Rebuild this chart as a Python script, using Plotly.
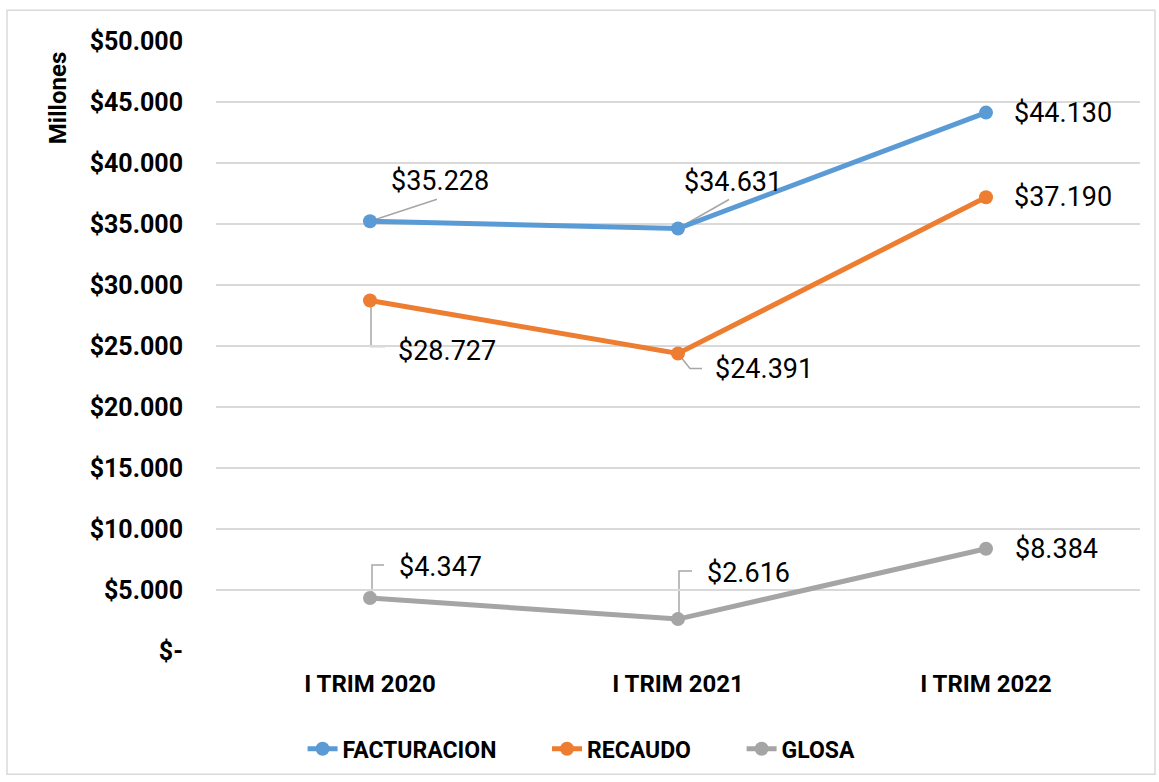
import plotly.graph_objects as go

# data
categorias = ["I TRIM 2020", "I TRIM 2021", "I TRIM 2022"]
facturacion = [35228, 34631, 44130]
recaudo = [28727, 24391, 37190]
glosa = [4347, 2616, 8384]

y_ticks = [0, 5000, 10000, 15000, 20000, 25000, 30000, 35000, 40000, 45000, 50000]
y_tick_labels = ["$-", "$5.000", "$10.000", "$15.000", "$20.000", "$25.000",
                 "$30.000", "$35.000", "$40.000", "$45.000", "$50.000"]

FONT = "Roboto, sans-serif"

series = [
    ("FACTURACION", facturacion, "#5B9BD5"),
    ("RECAUDO", recaudo, "#ED7D31"),
    ("GLOSA", glosa, "#A5A5A5"),
]


def fmt(v):
    return "$" + f"{v:,}".replace(",", ".")


fig = go.Figure()
for name, vals, color in series:
    fig.add_trace(go.Scatter(
        x=categorias, y=vals,
        # trailing spaces widen the gap between legend entries
        name="<b>" + name + "</b>" + "&nbsp;" * 8,
        mode="lines+markers",
        line=dict(color=color, width=5),
        marker=dict(size=14, color=color),
    ))

# label offsets (pixels) for each point: (dx, dy) text center from point
offsets = {
    "FACTURACION": [(70, -40), (55, -47), (77, 0)],
    "RECAUDO": [(77, 50), (86, 16), (77, 0)],
    "GLOSA": [(70, -31), (70, -46), (70, 0)],
}
# leader lines as pixel paths relative to point (y up positive)
leaders = {
    ("FACTURACION", 0): "M0,0 L67,22",
    ("FACTURACION", 1): "M0,0 L51,29",
    ("RECAUDO", 0): "M1,0 L1,-46 L15,-46",
    ("RECAUDO", 1): "M0,0 L12,-15 L24,-15",
    ("GLOSA", 0): "M2,0 L2,33 L14,33",
    ("GLOSA", 1): "M1,0 L1,48 L14,48",
}

annotations = []
shapes = []
for name, vals, color in series:
    for i, (cat, v) in enumerate(zip(categorias, vals)):
        dx, dy = offsets[name][i]
        annotations.append(dict(
            x=cat, y=v, xref="x", yref="y", text=fmt(v),
            showarrow=False, xshift=dx, yshift=-dy,
            font=dict(family=FONT, size=27, color="#000000"),
        ))
        if (name, i) in leaders:
            shapes.append(dict(
                type="path", xref="x", yref="y",
                xsizemode="pixel", ysizemode="pixel",
                xanchor=cat, yanchor=v,
                path=leaders[(name, i)],
                line=dict(color="#A6A6A6", width=1.5),
                layer="below",
            ))

annotations.append(dict(
    x=-0.171, y=0.985, xref="paper", yref="paper", text="<b>Millones</b>",
    textangle=-90, showarrow=False, xanchor="center", yanchor="top",
    font=dict(family=FONT, size=24, color="#000000"),
))

# outer chart border
shapes.append(dict(
    type="rect", xref="paper", yref="paper",
    x0=-0.2262, x1=1.0162, y0=-0.202, y1=1.0505,
    line=dict(color="#D9D9D9", width=1.5), fillcolor="rgba(0,0,0,0)",
    layer="below",
))

fig.update_layout(
    width=1159, height=782,
    margin=dict(l=216, r=19, t=41, b=127),
    paper_bgcolor="white", plot_bgcolor="white",
    font=dict(family=FONT, color="#000000"),
    showlegend=True,
    legend=dict(
        orientation="h", x=0.42, xanchor="center", y=-0.125, yanchor="top",
        font=dict(family=FONT, size=23, color="#000000"),
        traceorder="normal",
    ),
    xaxis=dict(
        range=[-0.5, 2.5], showgrid=False, zeroline=False, showline=False,
        ticks="", tickfont=dict(family=FONT, size=24, color="#000000"),
        tickprefix="<b>", ticksuffix="</b>", ticklabelstandoff=16,
    ),
    yaxis=dict(
        range=[0, 50000], tickvals=y_ticks, ticktext=["<b>" + t + "</b>" for t in y_tick_labels],
        showgrid=True, gridcolor="#D9D9D9", gridwidth=1.5,
        zeroline=False, showline=False, ticks="",
        tickfont=dict(family=FONT, size=25, color="#000000"),
        ticklabelstandoff=32,
    ),
    annotations=annotations,
    shapes=shapes,
)

# drop the default 8px page margin so the figure fills the window
fig.write_html("out.html", config={"displayModeBar": False},
               post_script="document.body.style.margin='0';")
